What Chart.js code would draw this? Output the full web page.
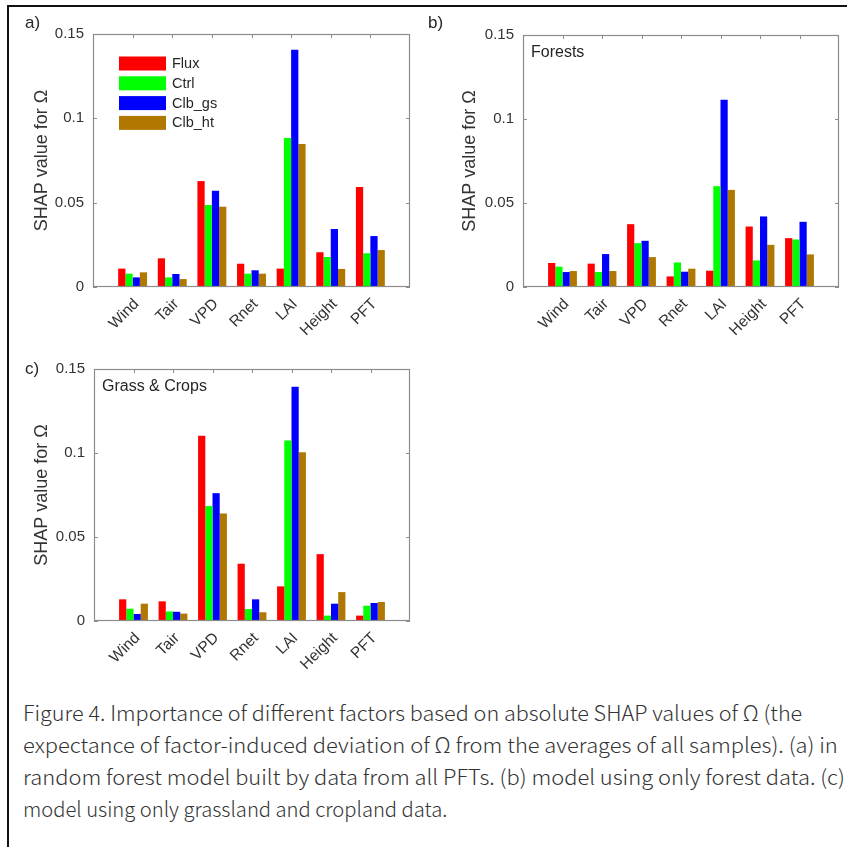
<!DOCTYPE html>
<html><head><meta charset="utf-8">
<script src="https://cdn.jsdelivr.net/npm/chart.js@4.4.1/dist/chart.umd.min.js"></script>
<style>
html,body{margin:0;padding:0;background:#fff;width:847px;height:847px;overflow:hidden;position:relative;}
#frame{position:absolute;left:7px;top:5px;width:900px;height:900px;border-top:2px solid #111;border-left:2px solid #111;}
canvas{position:absolute;}
.plab{position:absolute;font-family:'Liberation Sans',Arial,sans-serif;font-size:17px;line-height:20px;color:#262626;}
.cap{position:absolute;left:23px;white-space:nowrap;font-family:'Noto Sans CJK SC','Noto Sans',sans-serif;font-weight:300;font-size:21px;line-height:32px;color:#333;transform-origin:0 0;}
</style></head><body>
<div id="frame"></div>
<canvas id="ca" width="430" height="345" style="left:0px;top:0px"></canvas>
<canvas id="cb" width="417" height="345" style="left:430px;top:0px"></canvas>
<canvas id="cc" width="430" height="345" style="left:0px;top:335px"></canvas>
<div class="plab" style="left:25px;top:13px">a)</div>
<div class="plab" style="left:428px;top:13px">b)</div>
<div class="plab" style="left:25px;top:359px">c)</div>
<div class="cap" data-w="779" style="top:696px">Figure 4. Importance of different factors based on absolute SHAP values of Ω (the</div>
<div class="cap" data-w="815" style="top:728px">expectance of factor-induced deviation of Ω from the averages of all samples). (a) in</div>
<div class="cap" data-w="822" style="top:760px">random forest model built by data from all PFTs. (b) model using only forest data. (c)</div>
<div class="cap" data-w="424" style="top:792px">model using only grassland and cropland data.</div>
<script>
// ---- data ----
const categories = ['Wind', 'Tair', 'VPD', 'Rnet', 'LAI', 'Height', 'PFT'];
const seriesNames = ['Flux', 'Ctrl', 'Clb_gs', 'Clb_ht'];
const yTickValues = [0, 0.05, 0.1, 0.15];
const yTickLabels = ['0', '0.05', '0.1', '0.15'];

// (a) all PFTs
const allFlux  = [0.0109, 0.0170, 0.0628, 0.0138, 0.0109, 0.0206, 0.0593];
const allCtrl  = [0.0079, 0.0057, 0.0486, 0.0079, 0.0883, 0.0178, 0.0200];
const allClbGs = [0.0057, 0.0077, 0.0571, 0.0099, 0.1407, 0.0344, 0.0302];
const allClbHt = [0.0087, 0.0047, 0.0476, 0.0079, 0.0848, 0.0107, 0.0219];
// (b) forests
const forestFlux  = [0.0143, 0.0139, 0.0374, 0.0063, 0.0097, 0.0360, 0.0291];
const forestCtrl  = [0.0121, 0.0089, 0.0261, 0.0146, 0.0600, 0.0158, 0.0283];
const forestClbGs = [0.0089, 0.0196, 0.0275, 0.0091, 0.1114, 0.0420, 0.0388];
const forestClbHt = [0.0095, 0.0095, 0.0178, 0.0109, 0.0578, 0.0251, 0.0194];
// (c) grass & crops
const grassFlux  = [0.0129, 0.0117, 0.1102, 0.0341, 0.0206, 0.0398, 0.0032];
const grassCtrl  = [0.0073, 0.0057, 0.0684, 0.0071, 0.1074, 0.0032, 0.0091];
const grassClbGs = [0.0042, 0.0055, 0.0761, 0.0129, 0.1395, 0.0103, 0.0107];
const grassClbHt = [0.0103, 0.0044, 0.0640, 0.0052, 0.1005, 0.0172, 0.0113];

// ---- styles ----
const seriesColors = ['#ff0000', '#00ff00', '#0000ff', '#b07800'];
const FONT = "'Liberation Sans', Arial, sans-serif";
const TXT = '#333333';
const AXC = '#8c8c8c';

const pad = arr => [null, ...arr, null];
const paddedLabels = ['', ...categories, ''];

const boxPlugin = {
  id: 'matlabBox',
  beforeDatasetsDraw(chart) {
    const {ctx, chartArea: a, scales: {x, y}} = chart;
    const tl = 4;
    ctx.save();
    ctx.strokeStyle = AXC; ctx.lineWidth = 1;
    ctx.beginPath();
    categories.forEach((c, i) => {
      const px = Math.round(x.getPixelForValue(i + 1)) + 0.5;
      ctx.moveTo(px, a.top); ctx.lineTo(px, a.top + tl);
      ctx.moveTo(px, a.bottom); ctx.lineTo(px, a.bottom - tl);
    });
    yTickValues.forEach(v => {
      const py = Math.round(y.getPixelForValue(v)) + 0.5;
      ctx.moveTo(a.left, py); ctx.lineTo(a.left + tl, py);
      ctx.moveTo(a.right, py); ctx.lineTo(a.right - tl, py);
    });
    ctx.stroke();
    ctx.restore();
  },
  afterDatasetsDraw(chart) {
    const {ctx, chartArea: a} = chart;
    ctx.save();
    ctx.strokeStyle = AXC; ctx.lineWidth = 1.2;
    ctx.strokeRect(Math.round(a.left) + 0.5, Math.round(a.top) + 0.5,
                   Math.round(a.right - a.left) - 1, Math.round(a.bottom - a.top) - 1);
    ctx.restore();
  }
};

const notePlugin = {
  id: 'insideNotes',
  afterDatasetsDraw(chart, args, opts) {
    const {ctx, chartArea: a} = chart;
    ctx.save();
    if (opts.text) {
      ctx.fillStyle = '#262626';
      ctx.font = '16px ' + FONT;
      ctx.textBaseline = 'middle'; ctx.textAlign = 'left';
      ctx.fillText(opts.text, a.left + 8, a.top + 18);
    }
    if (opts.legend) {
      chart.data.datasets.forEach((ds, i) => {
        const yc = a.top + 29.5 + i * 19.8;
        ctx.fillStyle = ds.backgroundColor;
        ctx.fillRect(a.left + 26, yc - 7, 47, 14);
        ctx.fillStyle = '#262626';
        ctx.font = '14.5px ' + FONT;
        ctx.textBaseline = 'middle'; ctx.textAlign = 'left';
        ctx.fillText(ds.label, a.left + 79, yc + 0.5);
      });
    }
    ctx.restore();
  }
};

function makePanel(id, series, area, note, showLegend) {
  const cv = document.getElementById(id);
  const W = cv.width, H = cv.height;
  return new Chart(cv, {
    type: 'bar',
    data: {
      labels: paddedLabels,
      datasets: series.map((s, i) => ({
        label: seriesNames[i],
        data: pad(s),
        backgroundColor: seriesColors[i],
        borderWidth: 0,
        categoryPercentage: 0.73,
        barPercentage: 1.0
      }))
    },
    options: {
      responsive: false,
      animation: false,
      devicePixelRatio: 1,
      layout: {padding: {left: 0, top: area.top, right: W - area.right, bottom: 0}},
      plugins: {
        legend: {display: false},
        tooltip: {enabled: false},
        insideNotes: {text: note, legend: showLegend}
      },
      scales: {
        x: {
          type: 'category',
          offset: false,
          grid: {display: false, drawTicks: false},
          border: {display: false},
          ticks: {autoSkip: false, maxRotation: 45, minRotation: 45, padding: 8, labelOffset: 4,
                  font: {size: 15.5, family: FONT}, color: TXT},
          afterFit(s) { s.height = H - area.bottom; s.paddingLeft = 0; s.paddingRight = 0; }
        },
        y: {
          min: 0, max: 0.15,
          grid: {display: false, drawTicks: false},
          border: {display: false},
          afterBuildTicks(s) { s.ticks = yTickValues.map(v => ({value: v})); },
          ticks: {padding: 9, font: {size: 15, family: FONT}, color: TXT,
                  callback: (v, i) => yTickLabels[i]},
          title: {display: true, text: 'SHAP value for Ω', color: TXT,
                  font: {size: 18, family: FONT}, padding: {top: area.titleX - 10.8, bottom: 0}},
          afterFit(s) { s.width = area.left; s.paddingTop = 0; s.paddingBottom = 0; }
        }
      }
    },
    plugins: [boxPlugin, notePlugin]
  });
}

makePanel('ca', [allFlux, allCtrl, allClbGs, allClbHt],
          {left: 93, top: 34, right: 410, bottom: 287, titleX: 42}, '', true);
makePanel('cb', [forestFlux, forestCtrl, forestClbGs, forestClbHt],
          {left: 93, top: 35, right: 409, bottom: 287, titleX: 40}, 'Forests', false);
makePanel('cc', [grassFlux, grassCtrl, grassClbGs, grassClbHt],
          {left: 94, top: 34, right: 410, bottom: 286, titleX: 42}, 'Grass & Crops', false);

// caption: horizontal stretch of each line to the width it spans in the reference
function fitCaption() {
  document.querySelectorAll('.cap').forEach(el => {
    const k = (+el.dataset.w) / el.offsetWidth;
    el.style.transform = 'scaleX(' + k + ')';
  });
}
fitCaption();
if (document.fonts && document.fonts.ready) document.fonts.ready.then(fitCaption);
</script>
</body></html>
